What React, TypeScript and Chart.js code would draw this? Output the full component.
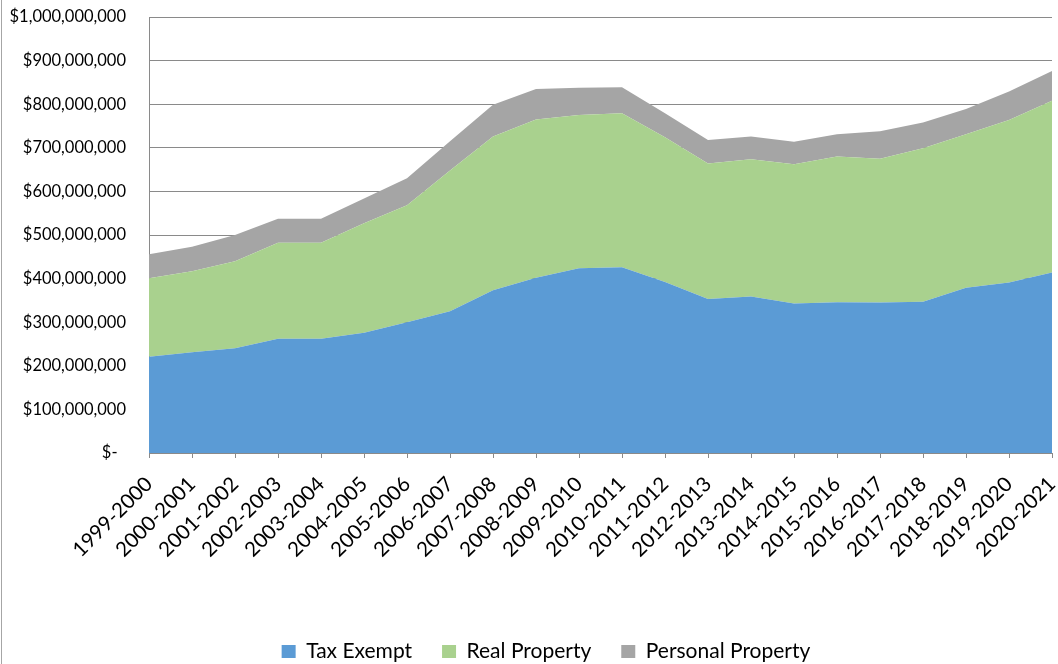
import { useEffect, useRef } from 'react';
import { Chart, registerables } from 'chart.js';

Chart.register(...registerables);

// Fiscal years
const categories = [
  '1999-2000', '2000-2001', '2001-2002', '2002-2003', '2003-2004', '2004-2005',
  '2005-2006', '2006-2007', '2007-2008', '2008-2009', '2009-2010', '2010-2011',
  '2011-2012', '2012-2013', '2013-2014', '2014-2015', '2015-2016', '2016-2017',
  '2017-2018', '2018-2019', '2019-2020', '2020-2021',
];

// Values in millions of dollars
const taxExempt = [221, 231, 240, 262, 262, 276, 300, 325, 373, 402, 424, 426, 392, 353, 359, 343, 346, 345, 347, 379, 391, 414];
const realProperty = [180, 186, 200, 220, 220, 251, 268, 323, 353, 363, 351, 353, 332, 311, 315, 319, 334, 330, 352, 352, 373, 394];
const personalProperty = [55, 56, 60, 55, 55, 57, 62, 67, 73, 70, 63, 60, 55, 54, 52, 52, 51, 63, 59, 58, 65, 68];

const MILLION = 1000000;

const seriesNames = ['Tax Exempt', 'Real Property', 'Personal Property'];
const seriesColors = ['#5B9BD5', '#A9D18E', '#A5A5A5'];

const yMin = 0;
const yMax = 1000000000;
const yStep = 100000000;

const FONT = 'Lato, "Open Sans", sans-serif';
const AXIS_GREY = '#8a8a8a';

const LEGEND_SHIFT = 20;

const legendShift = {
  id: 'legendShift',
  afterLayout(chart: any) {
    const lg = chart.legend;
    if (lg) {
      lg.left += LEGEND_SHIFT;
      lg.right += LEGEND_SHIFT;
    }
  },
};

export default function App() {
  const canvasRef = useRef<HTMLCanvasElement | null>(null);

  useEffect(() => {
    const canvas = canvasRef.current;
    if (!canvas) return;
    const seriesValues = [taxExempt, realProperty, personalProperty];
    const chart = new Chart(canvas, {
      type: 'line',
      data: {
        labels: categories,
        datasets: seriesValues.map((vals, i) => ({
          label: seriesNames[i],
          data: vals.map((v) => v * MILLION),
          backgroundColor: seriesColors[i],
          borderColor: seriesColors[i],
          borderWidth: 0,
          pointRadius: 0,
          pointHoverRadius: 0,
          tension: 0,
          fill: i === 0 ? 'origin' : '-1',
        })),
      },
      options: {
        animation: false,
        responsive: false,
        devicePixelRatio: 1,
        layout: { padding: { top: 17, right: 6, left: 0, bottom: 0 } },
        plugins: {
          legend: {
            position: 'bottom',
            labels: {
              boxWidth: 14,
              boxHeight: 13,
              padding: 30,
              color: '#000',
              font: { family: FONT, size: 21 },
            },
          },
          tooltip: { enabled: false },
        },
        scales: {
          x: {
            type: 'category',
            offset: false,
            grid: {
              drawOnChartArea: false,
              drawTicks: true,
              tickLength: 5,
              color: AXIS_GREY,
            },
            border: { display: true, color: AXIS_GREY, width: 1 },
            ticks: {
              autoSkip: false,
              maxRotation: 45,
              minRotation: 45,
              padding: 14,
              color: '#000',
              font: { family: FONT, size: 20.5 },
            },
            afterFit: (scale: any) => {
              scale.height = 158;
              scale.paddingLeft = 0;
              scale.paddingRight = 0;
            },
          },
          y: {
            stacked: true,
            min: yMin,
            max: yMax,
            grid: {
              color: AXIS_GREY,
              lineWidth: 1,
              drawTicks: false,
            },
            border: { display: true, color: AXIS_GREY, width: 1 },
            ticks: {
              stepSize: yStep,
              padding: 23,
              color: '#000',
              font: { family: FONT, size: 16.5 },
              callback: (value: any) => {
                const v = Number(value);
                if (v === 0) return '$-  ';
                return '$' + v.toLocaleString('en-US');
              },
            },
            afterFit: (scale: any) => {
              scale.width = 149;
              scale.paddingTop = 0;
              scale.paddingBottom = 0;
            },
          },
        },
      },
      plugins: [legendShift],
    });
    return () => {
      chart.destroy();
    };
  }, []);

  return (
    <div
      style={{
        position: 'fixed',
        left: 0,
        top: 0,
        width: 1058,
        height: 664,
        overflow: 'hidden',
        background: '#fff',
      }}
    >
      <div
        style={{
          position: 'absolute',
          left: 1,
          top: 0,
          width: 1,
          height: 664,
          background: '#a6a6a6',
        }}
      />
      <canvas ref={canvasRef} width={1058} height={672} style={{ display: 'block' }} />
    </div>
  );
}
